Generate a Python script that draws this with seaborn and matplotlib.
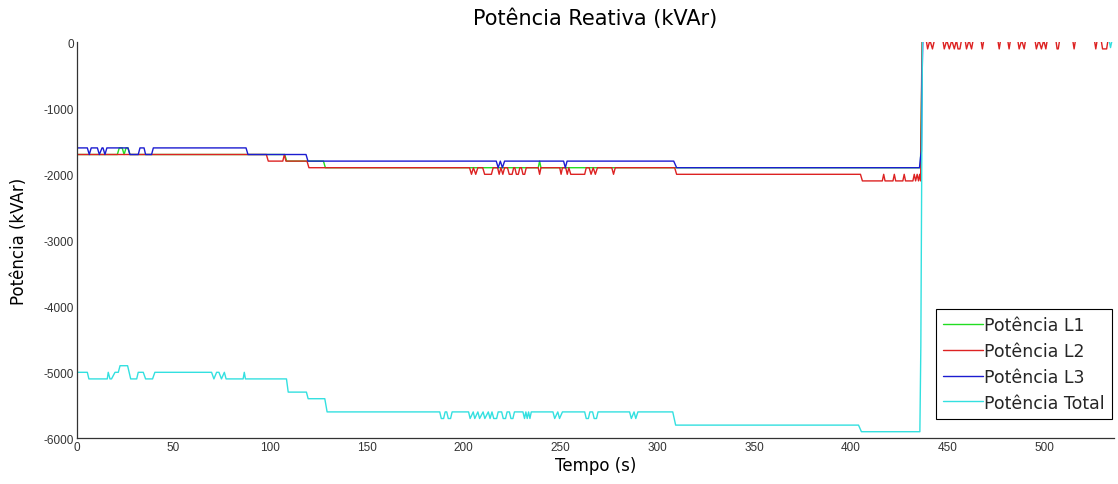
import matplotlib
matplotlib.use("Agg")
import matplotlib.pyplot as plt
import seaborn as sns
import pandas as pd

# ---------------- data (breakpoints) ----------------
series_names = ["Potência L1", "Potência L2", "Potência L3", "Potência Total"]

l1_t = [0, 21, 22, 23.5, 24.5, 25.5, 26.5, 27.5, 107.5, 108.5, 127.5, 128.5,
        238.5, 239.2, 239.9, 436, 437, 535.5]
l1_v = [-1700, -1700, -1600, -1600, -1700, -1600, -1600, -1700, -1700, -1800, -1800, -1900,
        -1900, -1800, -1900, -1900, 30, 30]

l2_t = [0, 98, 99, 106.5, 107.3, 108.1, 119, 120,
        203, 204, 205, 206.2, 207.3,
        209.8, 210.8, 214.3, 215.2,
        217.5, 218.3, 219.2, 220.2, 221.1,
        222.6, 223.5, 225, 225.8, 226.4, 227.2, 228.2, 229,
        229.8, 230.6, 231.5, 232.3,
        238.5, 239.2, 239.9,
        249.6, 250.3, 251,
        252.7, 253.5, 254.3, 255.3, 262.5, 263.3,
        264.8, 265.8, 266.9, 268, 269.1,
        276.5, 277.4, 278.3,
        309, 310, 405, 406,
        416.3, 417, 417.7, 421.8, 422.5, 423.2, 426.9, 427.6, 428.3,
        432.1, 432.8, 433.5, 434.3, 435, 435.6, 436.1, 436.8,
        439, 439.7, 440.9, 442.2, 443.2,
        447.6, 448.3, 449.6, 450.9, 452.2, 453.5, 454.6, 455.4, 456.4, 457.2,
        459.1, 459.8, 461.1, 462.4, 463.2,
        467.3, 468, 468.7,
        476, 476.7, 477.4,
        481.1, 481.8, 482.5,
        486.3, 487, 488.3, 489.6, 490.3,
        495.2, 495.9, 497.2, 498.5, 499.7, 500.8, 501.5,
        506, 506.6, 507.2, 507.9,
        514.7, 515.4, 516.1,
        525.9, 526.6, 527.3,
        529.4, 530.1, 532.2, 532.9]
l2_v = [-1700, -1700, -1800, -1800, -1700, -1800, -1800, -1900,
        -1900, -2000, -1900, -2000, -1900,
        -1900, -2000, -2000, -1900,
        -1900, -2000, -1900, -2000, -1900,
        -1900, -2000, -2000, -1900, -1900, -2000, -2000, -1900,
        -1900, -2000, -2000, -1900,
        -1900, -2000, -1900,
        -1900, -2000, -1900,
        -1900, -2000, -1900, -2000, -2000, -1900,
        -1900, -2000, -1900, -2000, -1900,
        -1900, -2000, -1900,
        -1900, -2000, -2000, -2100,
        -2100, -2000, -2100, -2100, -2000, -2100, -2100, -2000, -2100,
        -2100, -2000, -2100, -2000, -2100, -2000, -2100, 30,
        30, -100, 30, -100, 30,
        30, -100, 30, -100, 30, -100, 30, -100, -100, 30,
        30, -100, 30, -100, 30,
        30, -100, 30,
        30, -100, 30,
        30, -100, 30,
        30, -100, 30, -100, 30,
        30, -100, 30, -100, 30, -100, 30,
        30, -100, -100, 30,
        30, -100, 30,
        30, -100, 30,
        30, -100, -100, 30]

l3_t = [0, 5.5, 6.5, 7.5, 10.7, 11.7, 13.1, 13.6, 14.6, 15.6, 26.5, 27.5, 31.8, 32.7,
        34.8, 35.6, 38.7, 39.6, 87.5, 88.5, 118.5, 119.5,
        216.8, 217.8, 218.9, 220, 221.1, 251.6, 252.5, 253.4,
        308.5, 310, 435.5, 436, 436.5, 436.8, 437.2, 535.5]
l3_v = [-1600, -1600, -1700, -1600, -1600, -1700, -1600, -1600, -1700, -1600, -1600, -1700, -1700, -1600,
        -1600, -1700, -1700, -1600, -1600, -1700, -1700, -1800,
        -1800, -1900, -1800, -1900, -1800, -1800, -1900, -1800,
        -1800, -1900, -1900, -1750, -1650, -650, 30, 30]

tot_t = [0, 5.5, 6.3, 15.8, 16.3, 17.2, 18, 19.8, 21.5, 22.4, 26.3, 27.9, 31, 31.8, 32.3,
         34.4, 35.6, 39.2, 40.4, 69.7, 70.9, 72.3, 73.5, 74.8, 76.3, 77.2,
         86, 86.6, 87.2, 108.4, 109.3, 118.7, 119.6, 128.2, 129.4,
         187.6, 188.4, 189.6, 190.4, 191.2, 192, 193.2, 194,
         202.5, 203.3, 204.9, 205.7, 207.3, 208.2, 210, 210.9, 212.7, 213.6,
         214.6, 215.5, 217, 217.8, 219.6, 220.4, 221.6, 222.4,
         223.6, 224.4, 225.4, 226.2,
         230.6, 231.4, 232.1, 232.8, 233.5, 234.2, 234.9, 235.8,
         246.1, 247, 248.6, 249.5, 251, 251.9,
         262.5, 263.3, 264.4, 265.2, 266.6, 267.4, 268.6, 269.4,
         285.7, 286.6, 288, 288.9, 290,
         308, 309.5, 404, 405.5, 435.7, 436.2, 437,
         533.5, 534.2, 535, 535.5]
tot_v = [-5000, -5000, -5100, -5100, -5000, -5100, -5100, -5000, -5000, -4900, -4900, -5100, -5100, -5000, -5000,
         -5000, -5100, -5100, -5000, -5000, -5100, -5000, -5000, -5100, -5000, -5100,
         -5100, -5000, -5100, -5100, -5300, -5300, -5400, -5400, -5600,
         -5600, -5700, -5700, -5600, -5600, -5700, -5700, -5600,
         -5600, -5700, -5600, -5700, -5600, -5700, -5600, -5700, -5600, -5700,
         -5600, -5700, -5700, -5600, -5600, -5700, -5700, -5600,
         -5600, -5700, -5700, -5600,
         -5600, -5700, -5600, -5700, -5600, -5700, -5600, -5600,
         -5600, -5700, -5600, -5700, -5600, -5600,
         -5600, -5700, -5700, -5600, -5600, -5700, -5700, -5600,
         -5600, -5700, -5600, -5700, -5600,
         -5600, -5800, -5800, -5900, -5900, -4600, 30,
         30, -80, 30, 30]

colors = ["#22dd22", "#dd2222", "#1c1cd0", "#33e0e0"]
x_ticks = [0, 50, 100, 150, 200, 250, 300, 350, 400, 450, 500]
y_ticks = [0, -1000, -2000, -3000, -4000, -5000, -6000]

# ---------------- build long table ----------------
frames = []
for name, t, v in zip(series_names,
                      [l1_t, l2_t, l3_t, tot_t],
                      [l1_v, l2_v, l3_v, tot_v]):
    frames.append(pd.DataFrame({"Tempo": t, "Potencia": v, "Serie": name}))
df = pd.concat(frames, ignore_index=True)

# ---------------- plot ----------------
sns.set_style("white")
plt.rcParams["font.family"] = ["DejaVu Sans"]
plt.rcParams["axes.unicode_minus"] = False

fig = plt.figure(figsize=(11.18, 4.85), dpi=100)
ax = fig.add_axes([0.0686, 0.0942, 0.9278, 0.8165])

sns.lineplot(data=df, x="Tempo", y="Potencia", hue="Serie", hue_order=series_names,
             palette=colors, estimator=None, sort=False, linewidth=1.0, ax=ax)

ax.set_xlim(0, 536)
ax.set_ylim(-6000, 0)
ax.set_xticks(x_ticks)
ax.set_yticks(y_ticks)
ax.set_xticklabels([str(v) for v in x_ticks], fontfamily="Liberation Sans", fontsize=8.5, color="#333333")
ax.set_yticklabels([str(v) for v in y_ticks], fontfamily="Liberation Sans", fontsize=8.5, color="#333333")
ax.tick_params(direction="in", length=7.5, width=0.9, color="#333333", pad=2)

for s in ["top", "right"]:
    ax.spines[s].set_visible(False)
for s in ["left", "bottom"]:
    ax.spines[s].set_color("#333333")
    ax.spines[s].set_linewidth(0.9)

ax.set_title("Potência Reativa (kVAr)", fontsize=15, pad=13, color="black")
ax.set_xlabel("Tempo (s)", fontsize=12, labelpad=2, color="black")
ax.set_ylabel("Potência (kVAr)", fontsize=12, labelpad=11, color="black")

leg = ax.legend(loc="lower right", bbox_to_anchor=(0.998, 0.05), fontsize=12.5, frameon=True,
                fancybox=False, edgecolor="black", framealpha=1, borderpad=0.4,
                labelspacing=0.45, handlelength=2.3, handletextpad=0.1, borderaxespad=0.0)
leg.get_frame().set_linewidth(0.8)
for line in leg.get_lines():
    line.set_linewidth(1.0)

fig.savefig("out.png", dpi=100)
